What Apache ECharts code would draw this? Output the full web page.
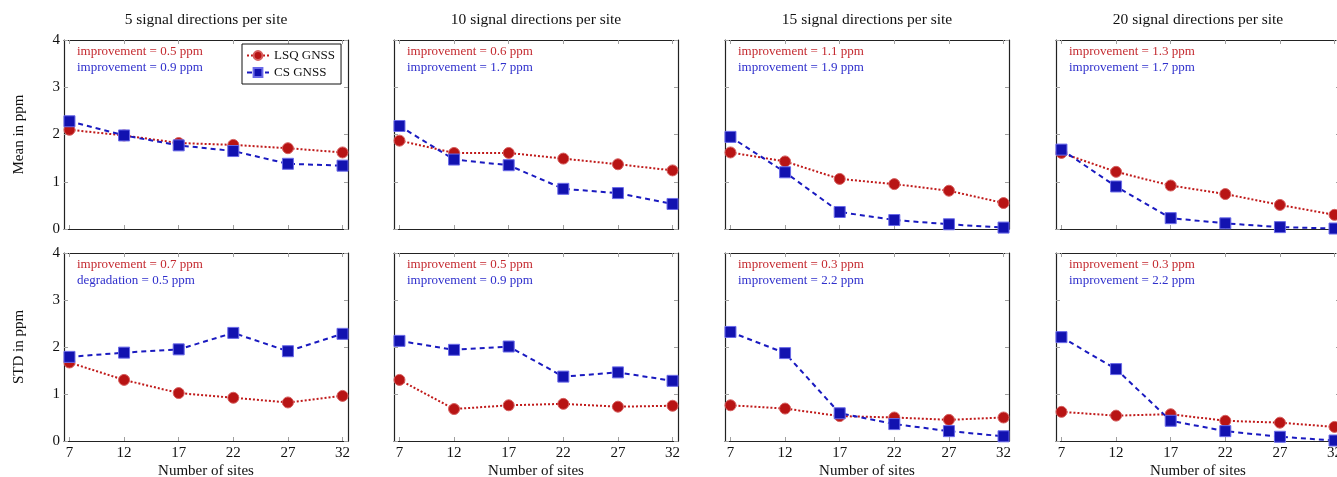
<!DOCTYPE html>
<html>
<head>
<meta charset="UTF-8">
<title>LSQ vs CS GNSS</title>
<style>
  html, body { margin: 0; padding: 0; background: #fff; }
  #chart { width: 1337px; height: 477px; }
</style>
</head>
<body>
<div id="chart"></div>
<script src="https://cdn.jsdelivr.net/npm/echarts@6/dist/echarts.min.js"></script>
<script>
// x values (number of sites) and panels (signal directions per site)
var sites = [7, 12, 17, 22, 27, 32];
var directions = [5, 10, 15, 20];

// mean in ppm, one row per panel
var meanLSQ = [
  [2.10, 1.98, 1.82, 1.78, 1.71, 1.62],
  [1.87, 1.61, 1.61, 1.49, 1.37, 1.24],
  [1.62, 1.43, 1.06, 0.95, 0.81, 0.55],
  [1.61, 1.21, 0.92, 0.74, 0.51, 0.30]
];
var meanCS = [
  [2.28, 1.98, 1.77, 1.65, 1.38, 1.34],
  [2.18, 1.47, 1.35, 0.85, 0.76, 0.53],
  [1.95, 1.20, 0.36, 0.19, 0.10, 0.03],
  [1.68, 0.90, 0.23, 0.12, 0.04, 0.01]
];
// std in ppm
var stdLSQ = [
  [1.67, 1.30, 1.02, 0.92, 0.82, 0.96],
  [1.30, 0.68, 0.76, 0.79, 0.73, 0.75],
  [0.76, 0.69, 0.53, 0.50, 0.45, 0.50],
  [0.62, 0.54, 0.57, 0.43, 0.39, 0.30]
];
var stdCS = [
  [1.79, 1.88, 1.95, 2.30, 1.91, 2.28],
  [2.13, 1.94, 2.01, 1.37, 1.46, 1.28],
  [2.32, 1.87, 0.59, 0.36, 0.21, 0.10],
  [2.21, 1.53, 0.43, 0.21, 0.09, 0.01]
];

// annotation texts [red, blue]
var meanNotes = [
  ['improvement = 0.5 ppm', 'improvement = 0.9 ppm'],
  ['improvement = 0.6 ppm', 'improvement = 1.7 ppm'],
  ['improvement = 1.1 ppm', 'improvement = 1.9 ppm'],
  ['improvement = 1.3 ppm', 'improvement = 1.7 ppm']
];
var stdNotes = [
  ['improvement = 0.7 ppm', 'degradation = 0.5 ppm'],
  ['improvement = 0.5 ppm', 'improvement = 0.9 ppm'],
  ['improvement = 0.3 ppm', 'improvement = 2.2 ppm'],
  ['improvement = 0.3 ppm', 'improvement = 2.2 ppm']
];

var FONT = '"Liberation Serif", "DejaVu Serif", serif';
var RED = '#b81414', BLUE = '#1212b0';
var RED_TXT = '#c42a30', BLUE_TXT = '#2f2fcc';

var myChart = echarts.init(document.getElementById('chart'));

var lefts = [64, 394, 725, 1056];
var panelW = 284;
var rows = [
  { top: 40, height: 189, lsq: meanLSQ, cs: meanCS, notes: meanNotes, yname: 'Mean in ppm' },
  { top: 253, height: 188, lsq: stdLSQ, cs: stdCS, notes: stdNotes, yname: 'STD in ppm' }
];

var grids = [], xAxes = [], yAxes = [], series = [], graphics = [];

function pairs(ys) {
  return sites.map(function (s, i) { return [s, ys[i]]; });
}

rows.forEach(function (row, r) {
  lefts.forEach(function (left, c) {
    var g = grids.length;
    grids.push({ left: left, top: row.top, width: panelW, height: row.height,
      outerBoundsMode: 'none', containLabel: false });

    var tickCommon = { show: true, inside: true, length: 4, customValues: sites,
      lineStyle: { color: '#a0a0a0', width: 1 } };
    var lineCommon = { show: true, onZero: false, lineStyle: { color: '#222', width: 1.2 } };

    // bottom x
    xAxes.push({
      type: 'value', gridIndex: g, position: 'bottom', min: 6.5, max: 32.5,
      axisLine: lineCommon, axisTick: tickCommon, splitLine: { show: false },
      axisLabel: { show: r === 1, customValues: sites, margin: 5,
        fontFamily: FONT, fontSize: 15, color: '#111' },
      name: r === 1 ? 'Number of sites' : '', nameLocation: 'middle', nameGap: 23,
      nameTextStyle: { fontFamily: FONT, fontSize: 15, color: '#111' }
    });
    // top x (mirror ticks)
    xAxes.push({
      type: 'value', gridIndex: g, position: 'top', min: 6.5, max: 32.5,
      axisLine: lineCommon, axisTick: tickCommon, splitLine: { show: false },
      axisLabel: { show: false }
    });
    var yTick = { show: true, inside: true, length: 4, lineStyle: { color: '#a0a0a0', width: 1 } };
    // left y
    yAxes.push({
      type: 'value', gridIndex: g, position: 'left', min: 0, max: 4, interval: 1,
      axisLine: lineCommon, axisTick: yTick, splitLine: { show: false },
      axisLabel: { show: c === 0, margin: 4, fontFamily: FONT, fontSize: 15, color: '#111' },
      name: c === 0 ? row.yname : '', nameLocation: 'middle', nameGap: 37,
      nameTextStyle: { fontFamily: FONT, fontSize: 15, color: '#111' }
    });
    // right y (mirror ticks)
    yAxes.push({
      type: 'value', gridIndex: g, position: 'right', min: 0, max: 4, interval: 1,
      axisLine: lineCommon, axisTick: yTick, splitLine: { show: false },
      axisLabel: { show: false }
    });

    series.push({
      name: 'LSQ GNSS', type: 'line', xAxisIndex: 2 * g, yAxisIndex: 2 * g,
      data: pairs(row.lsq[c]), symbol: 'circle', symbolSize: 11, z: 2,
      lineStyle: { color: '#c01a1a', width: 2, type: 'dotted' },
      itemStyle: { color: RED, borderColor: '#d66060', borderWidth: 1 }
    });
    series.push({
      name: 'CS GNSS', type: 'line', xAxisIndex: 2 * g, yAxisIndex: 2 * g,
      data: pairs(row.cs[c]), symbol: 'rect', symbolSize: 11, z: 3,
      lineStyle: { color: '#1a1ac0', width: 2, type: [5, 4] },
      itemStyle: { color: BLUE, borderColor: '#6a6ae8', borderWidth: 1 }
    });

    graphics.push({ type: 'text', x: left + 13, y: row.top + 12, z: 10,
      style: { text: row.notes[c][0], fill: RED_TXT, font: '13px ' + FONT,
        textAlign: 'left', textVerticalAlign: 'middle' } });
    graphics.push({ type: 'text', x: left + 13, y: row.top + 28, z: 10,
      style: { text: row.notes[c][1], fill: BLUE_TXT, font: '13px ' + FONT,
        textAlign: 'left', textVerticalAlign: 'middle' } });

    if (r === 0) {
      graphics.push({ type: 'text', x: left + panelW / 2, y: 20, z: 10,
        style: { text: directions[c] + ' signal directions per site', fill: '#111',
          font: '15.5px ' + FONT, textAlign: 'center', textVerticalAlign: 'middle' } });
    }
  });
});

var option = {
  animation: false,
  backgroundColor: '#fff',
  grid: grids,
  xAxis: xAxes,
  yAxis: yAxes,
  series: series,
  graphic: graphics,
  legend: {
    data: ['LSQ GNSS', 'CS GNSS'], orient: 'vertical', left: 242, top: 44,
    padding: [5, 6, 5, 4], itemGap: 4, itemWidth: 22, itemHeight: 11,
    borderColor: '#111', borderWidth: 1, backgroundColor: '#fff',
    textStyle: { fontFamily: FONT, fontSize: 13, color: '#111' }
  }
};

myChart.setOption(option);
</script>
</body>
</html>
